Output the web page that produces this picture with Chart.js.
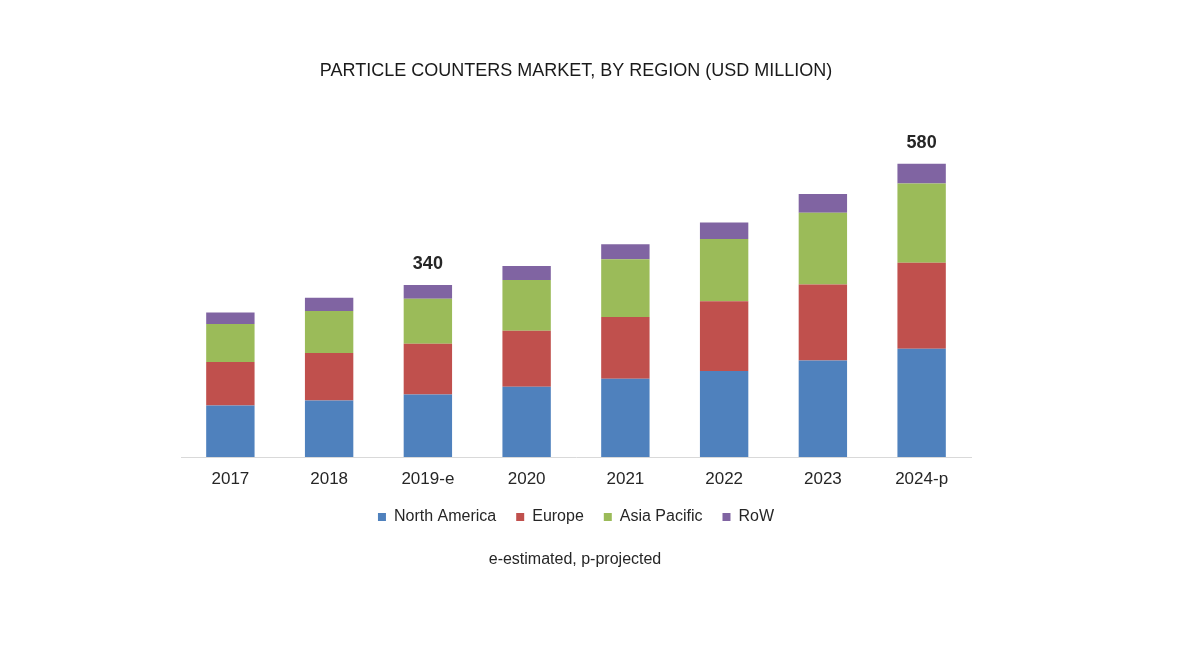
<!DOCTYPE html>
<html>
<head>
<meta charset="utf-8">
<script src="https://cdn.jsdelivr.net/npm/chart.js@4"></script>
<style>
  html, body { margin: 0; padding: 0; background: #fff; }
  #wrap { width: 1200px; height: 650px; }
</style>
</head>
<body>
<div id="wrap"><canvas id="myChart"></canvas></div>
<script>
const years = ['2017', '2018', '2019-e', '2020', '2021', '2022', '2023', '2024-p'];
const northAmerica = [102, 112, 124, 139, 155, 170, 191, 214];
const europe = [86, 94, 100, 111, 122, 138, 150, 170];
const asiaPacific = [75, 83, 89, 100, 114, 123, 142, 157];
const row = [23, 26, 27, 28, 30, 33, 37, 39];
// only these two totals are written on the chart
const totalLabels = ['', '', '340', '', '', '', '', '580'];

const fontFamily = '"Liberation Sans", Arial, sans-serif';

const extraText = {
    id: 'extraText',
    afterDatasetsDraw(chart) {
        const ctx = chart.ctx;
        const topMeta = chart.getDatasetMeta(chart.data.datasets.length - 1);
        ctx.save();
        ctx.fillStyle = '#262626';
        ctx.font = 'bold 18px ' + fontFamily;
        ctx.textAlign = 'center';
        ctx.textBaseline = 'middle';
        totalLabels.forEach((txt, i) => {
            if (!txt) return;
            const bar = topMeta.data[i];
            ctx.fillText(txt, bar.x, bar.y - 21);
        });
        ctx.font = '16px ' + fontFamily;
        ctx.fillText('e-estimated, p-projected', 575, 560);
        ctx.restore();
    }
};

const data = {
    labels: years,
    datasets: [
        { label: 'North America', data: northAmerica, backgroundColor: '#4F81BD' },
        { label: 'Europe', data: europe, backgroundColor: '#C0504D' },
        { label: 'Asia Pacific', data: asiaPacific, backgroundColor: '#9BBB59' },
        { label: 'RoW', data: row, backgroundColor: '#8064A2' }
    ]
};

const config = {
    type: 'bar',
    data: data,
    options: {
        responsive: true,
        maintainAspectRatio: false,
        animation: false,
        layout: { padding: { left: 181, right: 229, top: 0, bottom: 115 } },
        datasets: {
            bar: { barPercentage: 0.49, categoryPercentage: 1.0, borderWidth: 0 }
        },
        scales: {
            x: {
                stacked: true,
                grid: { display: false, drawTicks: false },
                border: { display: true, color: '#d9d9d9', width: 1 },
                ticks: { padding: 12, color: '#262626', font: { family: fontFamily, size: 17 } },
                // pull the legend closer to the tick labels
                afterFit(scale) { scale.height -= 12.5; }
            },
            y: {
                stacked: true,
                display: false,
                min: 0,
                max: 600
            }
        },
        plugins: {
            title: {
                display: true,
                text: 'PARTICLE COUNTERS MARKET, BY REGION (USD MILLION)',
                color: '#1a1a1a',
                font: { family: fontFamily, size: 18, weight: 'normal' },
                padding: { top: 60, bottom: 72 }
            },
            legend: {
                position: 'bottom',
                labels: {
                    boxWidth: 8,
                    boxHeight: 8,
                    padding: 20,
                    color: '#262626',
                    font: { family: fontFamily, size: 16 }
                }
            },
            tooltip: { enabled: false }
        }
    },
    plugins: [extraText]
};

const myChart = new Chart(document.getElementById('myChart'), config);
</script>
</body>
</html>
